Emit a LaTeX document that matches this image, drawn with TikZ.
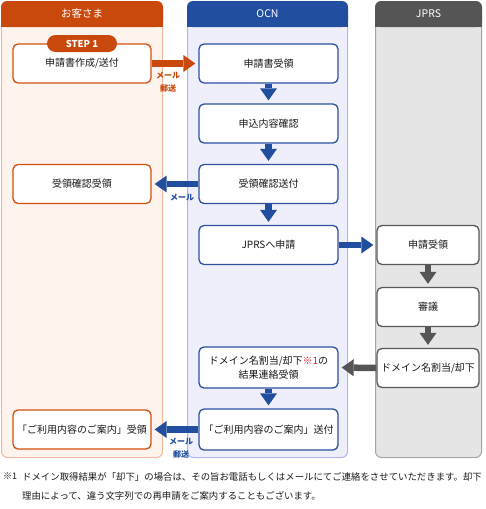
\documentclass[tikz,border=0pt]{standalone}
\usepackage{fontspec}
\setmainfont{Noto Sans CJK JP}
\usetikzlibrary{arrows.meta}
\definecolor{cusHead}{HTML}{C9480C}
\definecolor{cusBody}{HTML}{FFF3EE}
\definecolor{cusEdge}{HTML}{F5B89C}
\definecolor{cusBox}{HTML}{D2500F}
\definecolor{ocnHead}{HTML}{214E9F}
\definecolor{ocnBody}{HTML}{EFEFFC}
\definecolor{ocnEdge}{HTML}{B4B4F0}
\definecolor{ocnBox}{HTML}{2B519F}
\definecolor{jpHead}{HTML}{555555}
\definecolor{jpBody}{HTML}{E5E5E5}
\definecolor{jpEdge}{HTML}{A5A5A5}
\definecolor{jpBox}{HTML}{595959}
\definecolor{txt}{HTML}{1A1A1A}
\definecolor{noteRed}{HTML}{E8202A}
\tikzset{
  basebox/.style={draw, fill=white, rounded corners=5pt, line width=1.3pt,
    minimum height=39pt, align=center, inner sep=0pt, text=txt,
    font=\fontsize{10}{13.5}\selectfont},
  cbox/.style={basebox, draw=cusBox, minimum width=138pt},
  obox/.style={basebox, draw=ocnBox, minimum width=139pt},
  jbox/.style={basebox, draw=jpBox, minimum width=102pt},
  headtxt/.style={text=white, font=\fontsize{10.5}{12}\selectfont, inner sep=0pt},
  arr/.style={line width=6.5pt, -{Triangle[width=17pt,length=12pt,line width=0pt]}, shorten >=3pt},
  lab/.style={font=\bfseries\fontsize{8}{13}\selectfont, align=center, inner sep=0pt}
}
\begin{document}
\begin{tikzpicture}[x=1pt,y=-1pt]
\useasboundingbox (0,0) rectangle (486,509);
% columns
\filldraw[fill=cusBody,draw=cusEdge,line width=1pt,rounded corners=6pt] (1.5,10) rectangle (162.5,457.5);
\fill[cusHead,rounded corners=6pt] (1,1) rectangle (163,27);
\fill[cusHead] (1,15) rectangle (163,27);
\filldraw[fill=ocnBody,draw=ocnEdge,line width=1pt,rounded corners=6pt] (187.5,10) rectangle (347.5,457.5);
\fill[ocnHead,rounded corners=6pt] (187,1) rectangle (348,27);
\fill[ocnHead] (187,15) rectangle (348,27);
\filldraw[fill=jpBody,draw=jpEdge,line width=1pt,rounded corners=6pt] (375.5,10) rectangle (481.5,457.5);
\fill[jpHead,rounded corners=6pt] (375,1) rectangle (482,27);
\fill[jpHead] (375,15) rectangle (482,27);
\node[headtxt] (hc) at (82,14) {お客さま};
\node[headtxt] (ho) at (267.5,14) {OCN};
\node[headtxt] (hj) at (428.5,14) {JPRS};
% customer boxes
\node[cbox] (c1) at (82,63.5) {申請書作成/送付};
\node[fill=cusHead, rounded corners=8.5pt, minimum width=70pt, minimum height=17pt, inner sep=0pt, text=white, font=\bfseries\fontsize{9.5}{11}\selectfont] (step) at (82,43.5) {STEP 1};
\node[cbox] (c2) at (82,184) {受領確認受領};
\node[cbox] (c3) at (82,429.5) {「ご利用内容のご案内」受領};
% OCN boxes
\node[obox] (o1) at (268.5,63.5) {申請書受領};
\node[obox] (o2) at (268.5,123.5) {申込内容確認};
\node[obox] (o3) at (268.5,184) {受領確認送付};
\node[obox] (o4) at (268.5,245) {JPRSへ申請};
\node[obox, minimum height=41pt] (o5) at (268.5,367.5) {ドメイン名割当/却下{\color{noteRed}※1}の\\結果連絡受領};
\node[obox, minimum height=41pt] (o6) at (268.5,429.5) {「ご利用内容のご案内」送付};
% JPRS boxes
\node[jbox] (j1) at (428,245) {申請受領};
\node[jbox] (j2) at (428,307) {審議};
\node[jbox] (j3) at (428,368) {ドメイン名割当/却下};
% arrows
\draw[arr,cusHead] (c1.east) -- (o1.west);
\draw[arr,ocnHead] (o1.south) -- (o2.north);
\draw[arr,ocnHead] (o2.south) -- (o3.north);
\draw[arr,ocnHead] (o3.south) -- (o4.north);
\draw[arr,ocnHead] (o3.west) -- (c2.east);
\draw[arr,ocnHead] (o4.east) -- (j1.west);
\draw[arr,jpHead] (j1.south) -- (j2.north);
\draw[arr,jpHead] (j2.south) -- (j3.north);
\draw[arr,jpHead] (j3.west) -- (o5.east);
\draw[arr,ocnHead] (o5.south) -- (o6.north);
\draw[arr,ocnHead] (o6.west) -- (c3.east);
% labels
\node[lab,text=cusHead] (l1) at (168,82.5) {メール\\郵送};
\node[lab,text=ocnHead] (l2) at (182,198) {メール};
\node[lab,text=ocnHead] (l3) at (181,448) {メール\\郵送};
% footnote
\node[anchor=north west, inner sep=0pt, text=txt, font=\fontsize{9}{19}\selectfont] (fm) at (3,472.5) {※1};
\node[anchor=north west, inner sep=0pt, text=txt, align=left, font=\fontsize{9.4}{19}\selectfont] (fn) at (22,472) {ドメイン取得結果が「却下」の場合は、その旨お電話もしくはメールにてご連絡をさせていただきます。却下\\理由によって、違う文字列での再申請をご案内することもございます。};
\end{tikzpicture}
\end{document}
